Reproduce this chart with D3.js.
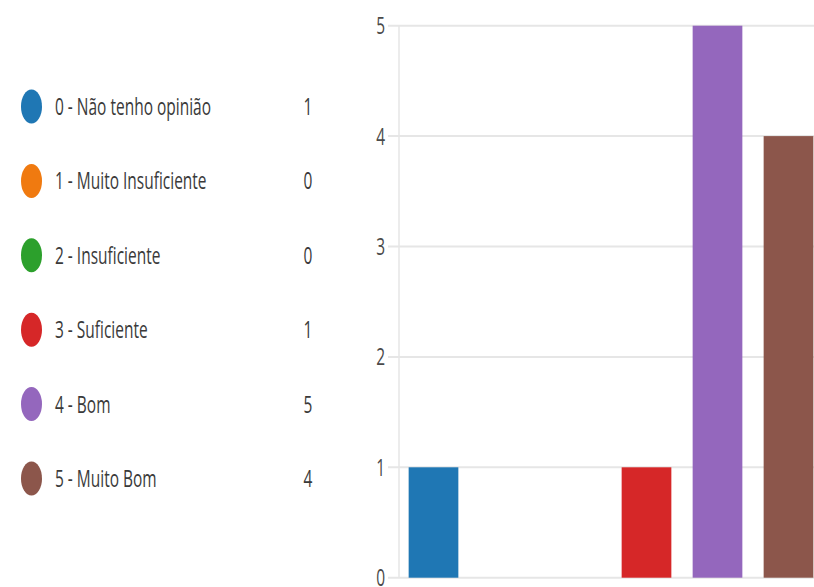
<!DOCTYPE html>
<html><head><meta charset="utf-8">
<script src="https://cdn.jsdelivr.net/npm/d3@7"></script>
<style>html,body{margin:0;padding:0;background:#fff;}svg{display:block;}</style>
</head><body>
<svg id="chart" width="814" height="587"></svg>
<script>
const categories = ["0 - Não tenho opinião","1 - Muito Insuficiente","2 - Insuficiente","3 - Suficiente","4 - Bom","5 - Muito Bom"];
const values = [1,0,0,1,5,4];
const colors = ["#1f77b4","#f07a10","#2ca02c","#d62728","#9467bd","#8c564b"];
const yTicks = [0,1,2,3,4,5];

const svg = d3.select("#chart");
const font = "'Open Sans', 'Noto Sans', sans-serif";
const sx = 0.645;

// legend
const ly = d3.scalePoint().domain(categories).range([106.5, 478.5]);
const lg = svg.append("g");
const rows = lg.selectAll("g.row").data(categories).join("g").attr("class","row");
rows.append("ellipse")
  .attr("cx", 31.5).attr("cy", d => ly(d)).attr("rx", 10.5).attr("ry", 17)
  .attr("fill", (d,i) => colors[i]);
rows.append("text")
  .attr("transform", d => `translate(55,${ly(d)}) scale(${sx},1)`)
  .attr("dy", "0.35em")
  .attr("font-family", font).attr("font-size", 24).attr("fill", "#3a3a3a")
  .text(d => d);
rows.append("text")
  .attr("transform", d => `translate(308,${ly(d)}) scale(${sx},1)`)
  .attr("dy", "0.35em").attr("text-anchor","middle")
  .attr("font-family", font).attr("font-size", 24).attr("fill", "#3a3a3a")
  .text((d,i) => values[i]);

// chart
const y = d3.scaleLinear().domain([0,5]).range([577.7, 25.7]);
const x = d3.scaleBand().domain(categories).range([398, 824]).paddingInner(0.3).paddingOuter(0.15);

const grid = svg.append("g");
grid.selectAll("line").data(yTicks).join("line")
  .attr("x1", 388).attr("x2", 814)
  .attr("y1", d => y(d)).attr("y2", d => y(d))
  .attr("stroke", "#e6e6e6").attr("stroke-width", 2);
svg.append("line")
  .attr("x1", 399).attr("x2", 399).attr("y1", y(5)).attr("y2", y(0))
  .attr("stroke", "#e6e6e6").attr("stroke-width", 1.5);

svg.append("g").selectAll("text").data(yTicks).join("text")
  .attr("transform", d => `translate(385,${y(d)}) scale(${sx},1)`)
  .attr("dy", "0.35em").attr("text-anchor", "end")
  .attr("font-family", font).attr("font-size", 24).attr("fill", "#4a4a4a")
  .text(d => d);

svg.append("g").selectAll("rect").data(categories).join("rect")
  .attr("x", d => x(d)).attr("width", x.bandwidth())
  .attr("y", (d,i) => y(values[i])).attr("height", (d,i) => y(0) - y(values[i]))
  .attr("fill", (d,i) => colors[i]);
</script>
</body></html>
